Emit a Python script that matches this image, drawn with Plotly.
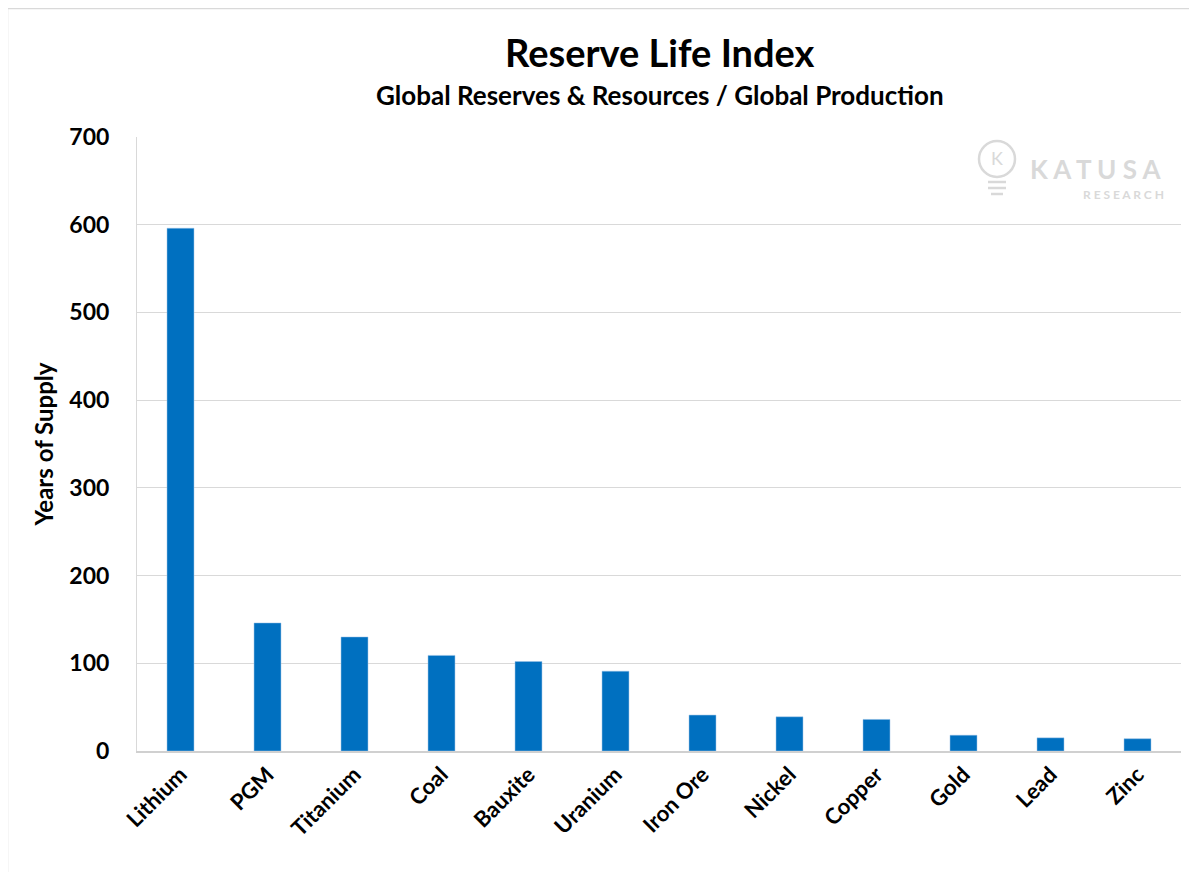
import plotly.graph_objects as go

categories = ["Lithium", "PGM", "Titanium", "Coal", "Bauxite", "Uranium",
              "Iron Ore", "Nickel", "Copper", "Gold", "Lead", "Zinc"]
years_of_supply = [596, 146, 130, 109, 102, 91, 41, 39, 36, 18, 15, 14]
y_ticks = [0, 100, 200, 300, 400, 500, 600, 700]

OFF = 8  # page body margin
W, H = 1197 - OFF, 872 - OFF
L, R, T, B = 137 - OFF, 16, 137 - OFF, 121
pw, ph = W - L - R, H - T - B

def px(x):
    return (x - OFF - L) / pw

def py(y):
    return (H - B - (y - OFF)) / ph

fig = go.Figure(go.Bar(
    x=categories, y=years_of_supply,
    marker=dict(color="#0070C0", line=dict(color="#9DC3E6", width=0.5)),
))

font = "Lato, Open Sans, sans-serif"
wm = "#d9d9d9"

shapes = [
    dict(type="line", xref="paper", yref="paper", x0=px(7.5), x1=px(7.5), y0=py(880), y1=py(8.5),
         line=dict(color="#d9d9d9", width=1.5)),
    dict(type="line", xref="paper", yref="paper", x0=px(7.5), x1=px(1200), y0=py(8.5), y1=py(8.5),
         line=dict(color="#d9d9d9", width=1.5)),
    # watermark bulb
    dict(type="circle", xref="paper", yref="paper", x0=px(979), x1=px(1015), y0=py(177), y1=py(141),
         line=dict(color=wm, width=2.5)),
]
for yy, x0, x1 in [(182, 988, 1006), (188, 988, 1006), (194, 991, 1003)]:
    shapes.append(dict(type="line", xref="paper", yref="paper", x0=px(x0), x1=px(x1),
                       y0=py(yy), y1=py(yy), line=dict(color=wm, width=2.5)))

fig.update_layout(
    width=W, height=H,
    margin=dict(l=L, r=R, t=T, b=B),
    paper_bgcolor="white", plot_bgcolor="white",
    bargap=0.69,
    showlegend=False,
    font=dict(family=font, color="black"),
    xaxis=dict(
        tickangle=-45, tickfont=dict(size=22, family=font, weight="bold"),
        showline=True, linecolor="#d0d0d0", linewidth=2,
        ticks="", showgrid=False,
    ),
    yaxis=dict(
        range=[0, 700], tickvals=y_ticks,
        tickfont=dict(size=23, family=font, weight="bold"),
        showgrid=True, gridcolor="#d9d9d9", gridwidth=1,
        showline=True, linecolor="#d9d9d9", linewidth=1,
        zeroline=False, ticks="", ticklabelstandoff=22,
        title=dict(text="Years of Supply", font=dict(size=24, family=font, weight="bold"), standoff=8),
    ),
    shapes=shapes,
    annotations=[
        dict(text="<b>Reserve Life Index</b>", xref="paper", yref="paper",
             x=px(660), y=py(52), xanchor="center", yanchor="middle", showarrow=False,
             font=dict(size=38, family=font, color="black")),
        dict(text="<b>Global Reserves &amp; Resources / Global Production</b>", xref="paper", yref="paper",
             x=px(660), y=py(95), xanchor="center", yanchor="middle", showarrow=False,
             font=dict(size=26, family=font, color="black")),
        dict(text="K A T U S A", xref="paper", yref="paper",
             x=px(1095), y=py(169), xanchor="center", yanchor="middle", showarrow=False,
             font=dict(size=26, family=font, color=wm, weight="bold")),
        dict(text="R E S E A R C H", xref="paper", yref="paper",
             x=px(1123), y=py(194), xanchor="center", yanchor="middle", showarrow=False,
             font=dict(size=12, family=font, color=wm, weight="bold")),
        dict(text="K", xref="paper", yref="paper",
             x=px(997), y=py(158), xanchor="center", yanchor="middle", showarrow=False,
             font=dict(size=18, family=font, color=wm)),
    ],
)

fig.write_html("out.html")
